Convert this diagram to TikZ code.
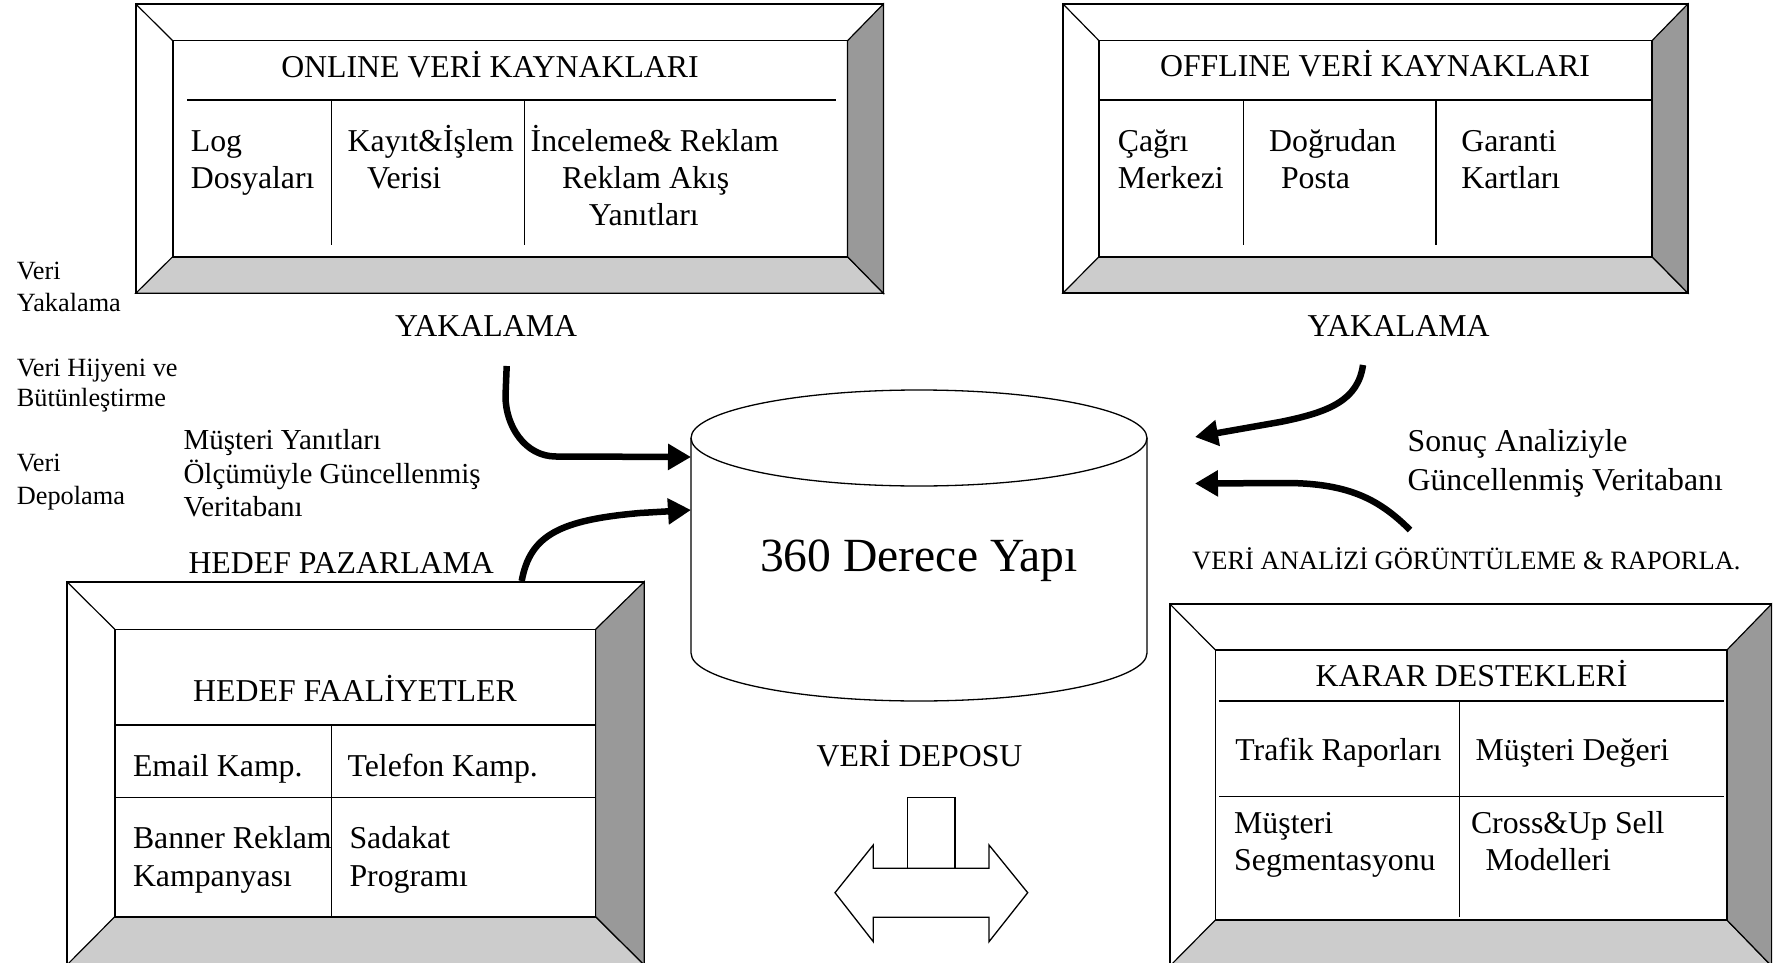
\documentclass[tikz,border=0pt]{standalone}
\usepackage{fontspec}
\setmainfont{Liberation Serif}
\usetikzlibrary{arrows.meta}

\definecolor{bevelbottom}{HTML}{CCCCCC}
\definecolor{bevelright}{HTML}{999999}

% Framed panel with a bevelled border:
% #1..#4 outer corners (x1,y1,x2,y2), #5..#8 inner corners (x1,y1,x2,y2)
\newcommand{\bevelpanel}[8]{%
  \fill[white] (#1,#2) rectangle (#3,#4);
  \filldraw[fill=bevelbottom, line width=1.2pt] (#1,#4) -- (#5,#8) -- (#7,#8) -- (#3,#4) -- cycle;
  \filldraw[fill=bevelright, line width=1.2pt] (#3,#2) -- (#7,#6) -- (#7,#8) -- (#3,#4) -- cycle;
  \draw[line width=1.2pt] (#1,#2) -- (#5,#6);
  \draw[line width=1.6pt] (#5,#6) rectangle (#7,#8);
  \draw[line width=1.6pt] (#1,#2) rectangle (#3,#4);
}

\tikzset{
  txt/.style={inner sep=0pt, anchor=base west, font=\fontsize{31.8}{36.6}\selectfont},
  ctxt/.style={txt, anchor=base},
  smalltxt/.style={txt, font=\fontsize{26.3}{30}\selectfont},
  midtxt/.style={txt, font=\fontsize{29}{33}\selectfont},
  rule/.style={line width=1.5pt},
  divider/.style={line width=1.2pt},
  bigarrow/.style={line width=6.5pt, -{Triangle[length=23pt,width=25pt]}},
}

\begin{document}
\begin{tikzpicture}[x=1pt, y=-1pt, line join=miter]
\useasboundingbox (0,0) rectangle (1780,963);
\fill[white] (0,0) rectangle (1780,963);

% ---------- online sources ----------
\bevelpanel{135.8}{4}{883.4}{293.3}{172.7}{40.7}{847.5}{256.7}
\draw[rule] (187.3,100) -- (836.3,100);
\draw[divider] (331.5,100) -- (331.5,245);
\draw[divider] (524.2,100) -- (524.2,245);
\node[ctxt] (ont) at (490,77.3) {ONLINE VERİ KAYNAKLARI};
\node[txt] (on1a) at (190.7,151.7) {Log};
\node[txt] (on1b) at (190.7,188.3) {Dosyaları};
\node[txt] (on2a) at (347.5,151.7) {Kayıt\&İşlem};
\node[txt] (on2b) at (366.9,188.3) {Verisi};
\node[txt] (on3a) at (530.5,151.7) {İnceleme\& Reklam};
\node[txt] (on3b) at (562,188.3) {Reklam Akış};
\node[txt] (on3c) at (588.7,225.7) {Yanıtları};

% ---------- offline sources ----------
\bevelpanel{1063}{4}{1687.8}{293}{1099}{40.7}{1652}{256.7}
\draw[rule] (1099,100) -- (1652,100);
\draw[divider] (1243.5,100) -- (1243.5,245);
\draw[divider] (1436,100) -- (1436,245);
\node[ctxt] (oft) at (1375,77) {OFFLINE VERİ KAYNAKLARI};
\node[txt] (of1a) at (1117.6,151.7) {Çağrı};
\node[txt] (of1b) at (1117.6,188.3) {Merkezi};
\node[txt] (of2a) at (1269,151.7) {Doğrudan};
\node[txt] (of2b) at (1280.8,188.3) {Posta};
\node[txt] (of3a) at (1461.2,151.7) {Garanti};
\node[txt] (of3b) at (1461.2,188.3) {Kartları};

% ---------- target activities ----------
\bevelpanel{66.9}{581.7}{644.3}{965}{114.8}{629.3}{595.6}{916.7}
\draw[rule] (114.8,725) -- (595.6,725);
\draw[rule] (114.8,797.3) -- (595.6,797.3);
\draw[divider] (331.3,725) -- (331.3,916.7);
\node[ctxt] (hft) at (355,701.7) {HEDEF FAALİYETLER};
\node[txt] (hf1) at (132.8,776.7) {Email Kamp.};
\node[txt] (hf2) at (347.4,776.7) {Telefon Kamp.};
\node[txt] (hf3a) at (132.8,848.3) {Banner Reklam};
\node[txt] (hf3b) at (132.8,886.7) {Kampanyası};
\node[txt] (hf4a) at (349.3,848.3) {Sadakat};
\node[txt] (hf4b) at (349.3,886.7) {Programı};

% ---------- decision support ----------
\bevelpanel{1169.9}{604}{1771.6}{966}{1215.4}{650}{1726.9}{920}
\draw[rule] (1219.4,701) -- (1724,701);
\draw[rule] (1219.4,796.7) -- (1724,796.7);
\draw[divider] (1459.7,701) -- (1459.7,916.7);
\node[ctxt] (kdt) at (1471.6,686.7) {KARAR DESTEKLERİ};
\node[txt] (kd1) at (1235.2,760) {Trafik Raporları};
\node[txt] (kd2) at (1475.5,760) {Müşteri Değeri};
\node[txt] (kd3a) at (1234,833.3) {Müşteri};
\node[txt] (kd3b) at (1234,870) {Segmentasyonu};
\node[txt] (kd4a) at (1470.8,833.3) {Cross\&Up Sell};
\node[txt] (kd4b) at (1485.4,870) {Modelleri};

% ---------- central database cylinder ----------
\filldraw[fill=white, line width=1.3pt] (691,438) -- (691,653)
  arc[start angle=180, end angle=0, x radius=228, y radius=48] -- (1147,438);
\draw[line width=1.3pt] (919,438) ellipse[x radius=228, y radius=48];
\node[ctxt, font=\fontsize{47.6}{52}\selectfont] (db) at (919,571.7) {360 Derece Yapı};
\coordinate (dbin1) at (691,457);
\coordinate (dbin2) at (691,510);

% ---------- side labels ----------
\node[smalltxt] (s1a) at (16.7,279.3) {Veri};
\node[smalltxt] (s1b) at (16.7,311.7) {Yakalama};
\node[smalltxt] (s2a) at (16.7,376) {Veri Hijyeni ve};
\node[smalltxt] (s2b) at (16.7,406.7) {Bütünleştirme};
\node[smalltxt] (s3a) at (16.7,471.7) {Veri};
\node[smalltxt] (s3b) at (16.7,504) {Depolama};

\node[midtxt] (mya) at (183.3,449.3) {Müşteri Yanıtları};
\node[midtxt] (myb) at (183.3,483.3) {Ölçümüyle Güncellenmiş};
\node[midtxt] (myc) at (183.3,516.7) {Veritabanı};
\node[txt] (hp) at (188.3,573.3) {HEDEF PAZARLAMA};

\node[ctxt] (yk1) at (486,336) {YAKALAMA};
\node[ctxt] (yk2) at (1398.6,336) {YAKALAMA};

\node[txt] (sa1) at (1407.4,451.7) {Sonuç Analiziyle};
\node[txt] (sa2) at (1407.4,490) {Güncellenmiş Veritabanı};
\node[txt, font=\fontsize{26.5}{30}\selectfont] (va) at (1192,569) {VERİ ANALİZİ GÖRÜNTÜLEME \& RAPORLA.};

\node[ctxt] (vd) at (919.5,766) {VERİ DEPOSU};

% ---------- flow arrows ----------
\coordinate (a1s) at (506.7,366);
\coordinate (a2s) at (521.7,581);
\coordinate (b1s) at (1363,365);
\coordinate (b1e) at (1195,437);
\coordinate (b2s) at (1410,530);
\coordinate (b2e) at (1195,483.5);

\draw[bigarrow] (a1s) -- (505.5,396) .. controls (505.5,426) and (525,456.5) .. (556,456.5) -- (dbin1);
\draw[bigarrow] (a2s) .. controls (530,535) and (560,520) .. (640,513) -- (dbin2);
\draw[bigarrow] (b1s) .. controls (1358,400) and (1330,412) .. (1280,422) -- (b1e);
\draw[bigarrow] (b2s) .. controls (1380,500) and (1350,484) .. (1290,483) -- (b2e);

% ---------- storage symbol ----------
\draw[line width=1.3pt] (907.3,797.3) rectangle (955,868.3);
\draw[line width=1.3pt] (873.3,868.3) -- (873.3,845) -- (835,892.7) -- (873.3,941.7)
  -- (873.3,917.3) -- (989,917.3) -- (989,941.7) -- (1027.7,892.7) -- (989,845)
  -- (989,868.3) -- cycle;
\end{tikzpicture}
\end{document}
